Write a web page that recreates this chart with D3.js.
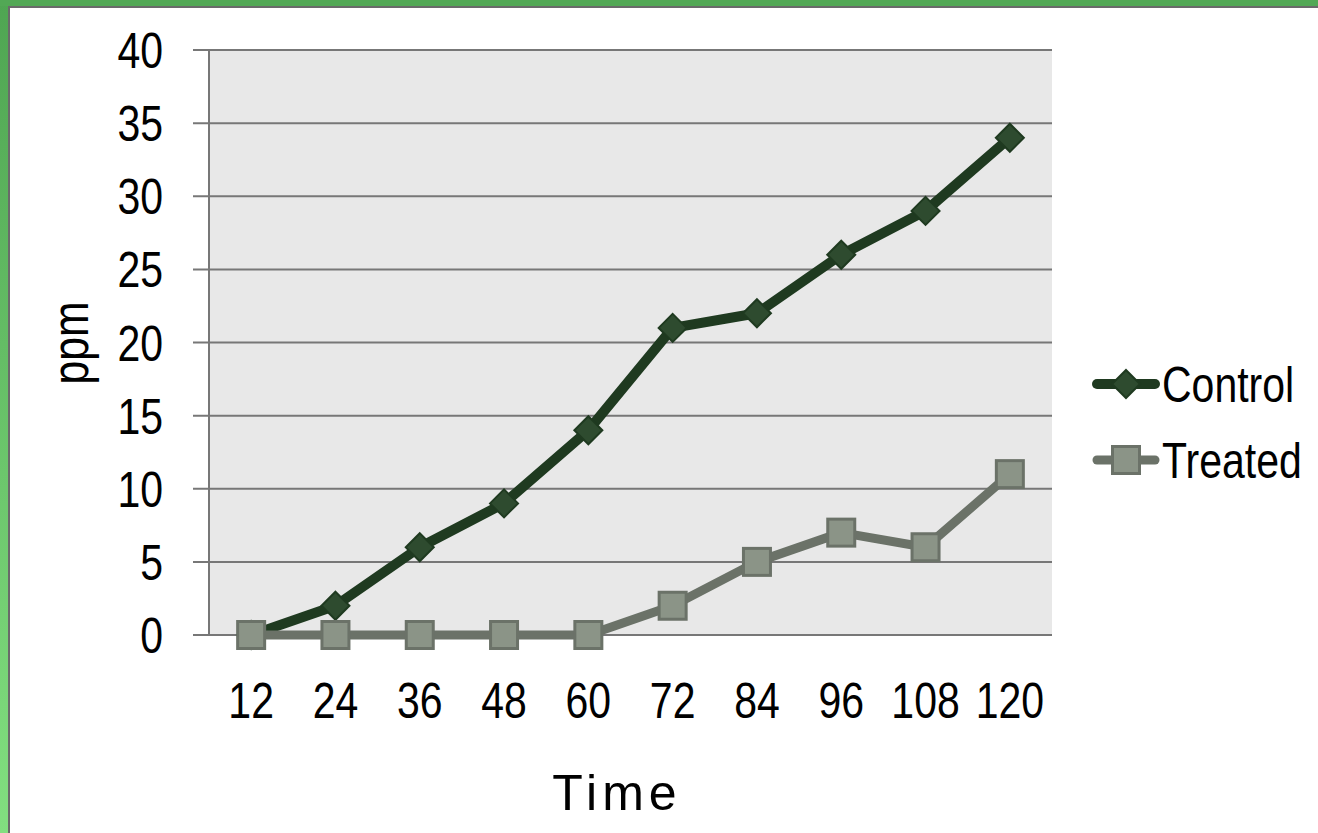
<!DOCTYPE html>
<html>
<head>
<meta charset="utf-8">
<script src="https://cdn.jsdelivr.net/npm/d3@7/dist/d3.min.js"></script>
<style>
  html, body { margin: 0; padding: 0; background: #fff; }
  svg { display: block; }
  .narrow { font-family: "Liberation Sans", Arial, sans-serif; font-size: 50px; fill: #000; }
</style>
</head>
<body>
<svg id="chart" width="1318" height="833"></svg>
<script>
// Sampling times (hours) and measured concentrations (ppm)
const times = [12, 24, 36, 48, 60, 72, 84, 96, 108, 120];
const control = [0, 2, 6, 9, 14, 21, 22, 26, 29, 34];
const treated = [0, 0, 0, 0, 0, 2, 5, 7, 6, 11];
const yTicks = [0, 5, 10, 15, 20, 25, 30, 35, 40];
const seriesNames = ["Control", "Treated"];

const W = 1318, H = 833;
const plot = { left: 209, right: 1052, top: 50, bottom: 635 };
const NARROW = 0.82; // horizontal squeeze for a condensed look

const svg = d3.select("#chart");

// Condensed text: place at (x, y) and squeeze horizontally
function narrowText(parent, x0, y0, str, anchor, rotate) {
  const rot = rotate ? ` rotate(${rotate})` : "";
  return parent.append("text")
    .attr("class", "narrow")
    .attr("transform", `translate(${x0},${y0})${rot} scale(${NARROW},1)`)
    .attr("text-anchor", anchor || "start")
    .text(str);
}

// Frame: green border on the top and left edges
const defs = svg.append("defs");
const grad = defs.append("linearGradient").attr("id", "frameGrad")
  .attr("x1", 0).attr("y1", 0).attr("x2", 0).attr("y2", 1);
grad.append("stop").attr("offset", "0%").attr("stop-color", "#4fa552");
grad.append("stop").attr("offset", "100%").attr("stop-color", "#82df80");

svg.append("rect").attr("x", 0).attr("y", 0).attr("width", 8).attr("height", H).attr("fill", "url(#frameGrad)");
svg.append("rect").attr("x", 0).attr("y", 0).attr("width", W).attr("height", 6).attr("fill", "#52a855");
svg.append("rect").attr("x", 8).attr("y", 6).attr("width", 2).attr("height", H).attr("fill", "#6a6a6a");
svg.append("rect").attr("x", 8).attr("y", 6).attr("width", W).attr("height", 2).attr("fill", "#6a6a6a");

// Scales
const x = d3.scaleBand().domain(times).range([plot.left, plot.right]).padding(0);
const cx = d => x(d) + x.bandwidth() / 2;
const y = d3.scaleLinear().domain([0, 40]).range([plot.bottom, plot.top]);

// Plot background
svg.append("rect")
  .attr("x", plot.left).attr("y", plot.top)
  .attr("width", plot.right - plot.left).attr("height", plot.bottom - plot.top)
  .attr("fill", "#e8e8e8");

// Horizontal gridlines (extend left as tick marks)
svg.append("g").selectAll("line").data(yTicks).join("line")
  .attr("x1", plot.left - 16).attr("x2", plot.right)
  .attr("y1", d => y(d)).attr("y2", d => y(d))
  .attr("stroke", "#777").attr("stroke-width", 2);

// Vertical axis line
svg.append("line")
  .attr("x1", plot.left).attr("x2", plot.left)
  .attr("y1", plot.top).attr("y2", plot.bottom)
  .attr("stroke", "#777").attr("stroke-width", 2);

// Y tick labels
const gy = svg.append("g");
yTicks.forEach(d => narrowText(gy, 163, y(d) + 18, d, "end"));

// X tick labels
const gx = svg.append("g");
times.forEach(d => narrowText(gx, cx(d), 718, d, "middle"));

// Axis titles
svg.append("text")
  .attr("x", 617).attr("y", 810)
  .attr("text-anchor", "middle")
  .style("font-family", "'Liberation Sans', Arial, sans-serif")
  .style("font-size", "50px")
  .style("letter-spacing", "5px")
  .text("Time");

narrowText(svg, 88, 343, "ppm", "middle", -90).style("font-size", "52px");

const line = d3.line().x((d, i) => cx(times[i])).y(d => y(d));

const styles = {
  Control: { line: "#1f3a20", fill: "#2e4b2f", stroke: "#1f3a20", width: 10, symbol: "diamond" },
  Treated: { line: "#6b7268", fill: "#8b9487", stroke: "#6b7268", width: 9, symbol: "square" }
};

function drawMarker(g, kind, px, py, st) {
  if (kind === "diamond") {
    const r = 14;
    g.append("path")
      .attr("d", `M${px},${py - r}L${px + r},${py}L${px},${py + r}L${px - r},${py}Z`)
      .attr("fill", st.fill).attr("stroke", st.stroke).attr("stroke-width", 2);
  } else {
    const s = 13.5;
    g.append("rect")
      .attr("x", px - s).attr("y", py - s).attr("width", 2 * s).attr("height", 2 * s)
      .attr("fill", st.fill).attr("stroke", st.stroke).attr("stroke-width", 3);
  }
}

// Series in order: Treated is drawn after Control and sits on top
const seriesData = { Control: control, Treated: treated };
seriesNames.forEach(name => {
  const st = styles[name];
  const vals = seriesData[name];
  const g = svg.append("g");
  g.append("path").datum(vals)
    .attr("d", line)
    .attr("fill", "none").attr("stroke", st.line)
    .attr("stroke-width", st.width).attr("stroke-linejoin", "round").attr("stroke-linecap", "round");
  vals.forEach((v, i) => drawMarker(g, st.symbol, cx(times[i]), y(v), st));
});

// Legend
const legendY = [384, 460];
seriesNames.forEach((name, i) => {
  const st = styles[name];
  const g = svg.append("g");
  const ly = legendY[i];
  g.append("line")
    .attr("x1", 1097).attr("x2", 1155).attr("y1", ly).attr("y2", ly)
    .attr("stroke", st.line).attr("stroke-width", st.width).attr("stroke-linecap", "round");
  drawMarker(g, st.symbol, 1126, ly, st);
  narrowText(g, 1162, ly + 18, name, "start");
});
</script>
</body>
</html>
